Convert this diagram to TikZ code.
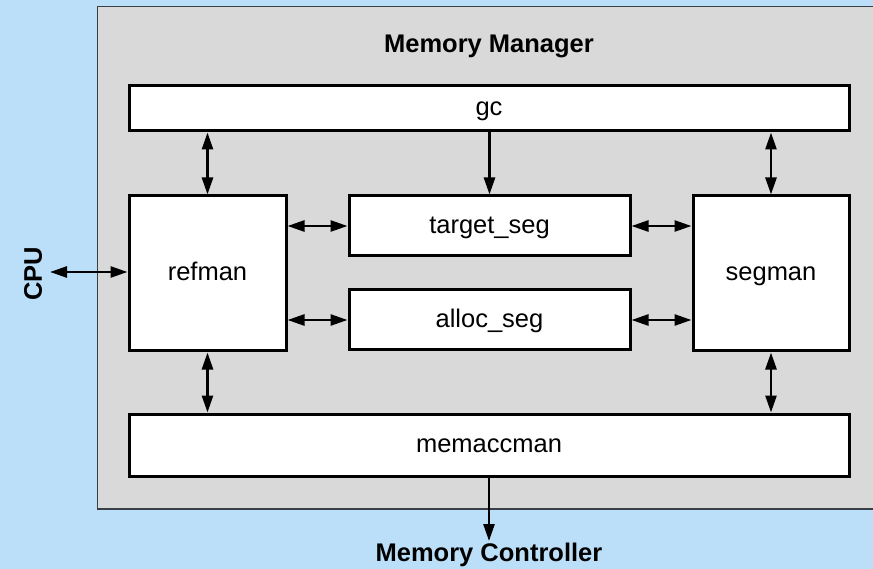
\documentclass[tikz,border=0pt]{standalone}
\usepackage{fontspec}
\setmainfont{Liberation Sans}
\usetikzlibrary{arrows.meta}
\definecolor{bgblue}{HTML}{BBDFF9}
\definecolor{mgray}{HTML}{D9D9D9}
\definecolor{frame}{HTML}{3A3F45}
\begin{document}
\begin{tikzpicture}[x=1pt,y=-1pt,
  blk/.style={draw=black,line width=3pt,fill=white,inner sep=0pt,text height=15pt,text depth=0pt,font=\fontsize{25.5}{30}\selectfont},
  arr/.style={line width=2.6pt,-{Triangle[length=17pt,width=11pt]}},
  darr/.style={line width=2.6pt,{Triangle[length=17pt,width=11pt]}-{Triangle[length=17pt,width=11pt]}},
  lbl/.style={font=\fontsize{25.5}{30}\selectfont\bfseries,inner sep=0pt}]
\useasboundingbox (0,0) rectangle (873,569);
\fill[bgblue] (0,0) rectangle (873,569);
\draw[frame,fill=mgray,line width=1.8pt] (97.5,6.5) rectangle (890,509);
\node[lbl] (mm) at (489,46) {Memory Manager};
\node[blk,minimum width=720pt,minimum height=45pt] (gc) at (489,108.5) {gc};
\node[blk,minimum width=157pt,minimum height=155pt] (refman) at (207.5,273.5) {refman};
\node[blk,minimum width=281pt,minimum height=60pt] (target) at (489.5,226) {target\_seg};
\node[blk,minimum width=281pt,minimum height=60pt] (alloc) at (489.5,320) {alloc\_seg};
\node[blk,minimum width=156pt,minimum height=155pt] (segman) at (771,273.5) {segman};
\node[blk,minimum width=720pt,minimum height=62pt] (memacc) at (489,445) {memaccman};
\node[lbl,rotate=90] (cpu) at (33,274) {CPU};
\node[lbl] (mc) at (489,555) {Memory Controller};
\coordinate (cpuend) at (50,272);
\coordinate (mcend) at (489,541);
\draw[darr] (refman.north) -- (gc.south -| refman.north);
\draw[darr] (segman.north) -- (gc.south -| segman.north);
\draw[arr] (gc.south -| target.north) -- (target.north);
\draw[darr] (refman.east |- target.west) -- (target.west);
\draw[darr] (refman.east |- alloc.west) -- (alloc.west);
\draw[darr] (target.east) -- (segman.west |- target.east);
\draw[darr] (alloc.east) -- (segman.west |- alloc.east);
\draw[darr] (refman.south) -- (memacc.north -| refman.south);
\draw[darr] (segman.south) -- (memacc.north -| segman.south);
\draw[darr] (cpuend) -- (refman.west |- cpuend);
\draw[arr] (memacc.south) -- (mcend);
\end{tikzpicture}
\end{document}
